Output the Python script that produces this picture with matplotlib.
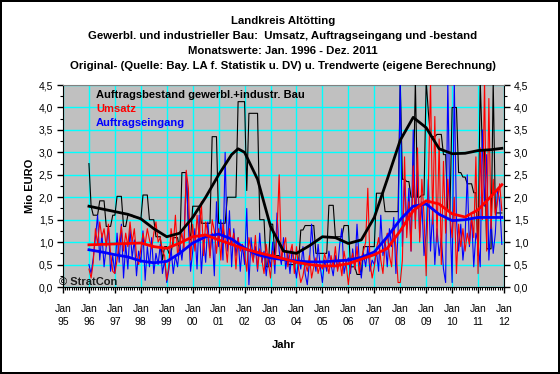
import numpy as np
import matplotlib
matplotlib.use("Agg")
import matplotlib.pyplot as plt
from matplotlib.ticker import MultipleLocator, FixedLocator, FuncFormatter

plt.rcParams['font.family'] = ['Liberation Sans', 'DejaVu Sans']

## Monatswerte Jan. 1996 - Dez. 2011 (Mio EURO)
bestand = [
    2.75, 1.80, 1.60, 1.60, 1.60, 1.92, 1.92, 1.92, 1.35, 1.35, 1.35, 1.60,  # 1996
    1.60, 2.02, 2.02, 2.02, 1.35, 1.35, 1.60, 1.60, 1.60, 1.55, 1.55, 1.55,  # 1997
    1.50, 2.05, 2.05, 2.05, 1.50, 1.50, 1.50, 1.12, 1.12, 1.12, 0.60, 0.90,  # 1998
    0.90, 0.75, 0.75, 1.10, 1.10, 1.10, 0.80, 2.55, 2.55, 2.55, 1.40, 1.05,  # 1999
    1.80, 1.80, 1.80, 1.80, 1.42, 1.42, 1.42, 1.42, 1.42, 3.35, 3.35, 3.35,  # 2000
    1.42, 1.42, 1.42, 1.42, 2.00, 2.00, 2.00, 2.00, 2.00, 4.13, 4.13, 4.13,  # 2001
    4.13, 2.15, 3.87, 3.87, 3.87, 3.87, 3.87, 1.50, 1.50, 1.50, 0.45, 0.45,  # 2002
    1.40, 1.40, 0.70, 0.70, 0.70, 0.60, 0.60, 0.60, 0.50, 0.50, 0.50, 0.50,  # 2003
    0.55, 0.55, 1.27, 1.27, 1.37, 1.37, 1.37, 1.37, 1.37, 0.75, 0.75, 0.75,  # 2004
    0.75, 0.75, 0.75, 1.82, 1.82, 1.82, 1.12, 1.12, 1.12, 1.12, 1.37, 1.37,  # 2005
    1.37, 0.45, 0.45, 0.45, 0.28, 0.28, 0.28, 0.90, 0.90, 0.90, 0.90, 0.90,  # 2006
    0.90, 2.09, 2.09, 2.09, 2.09, 1.68, 1.68, 1.68, 1.68, 1.68, 1.68, 1.68,  # 2007
    4.60, 2.40, 2.40, 2.35, 2.35, 2.00, 2.00, 4.60, 2.00, 2.00, 2.05, 2.05,  # 2008
    4.60, 3.90, 3.35, 3.35, 3.35, 3.40, 3.40, 3.40, 2.95, 2.95, 1.70, 1.70,  # 2009
    4.00, 4.00, 4.00, 2.55, 2.55, 2.45, 2.45, 2.30, 2.30, 2.30, 2.10, 2.10,  # 2010
    0.70, 4.60, 3.05, 3.05, 0.85, 0.85, 0.85, 4.60, 1.65, 1.65, 1.65, 1.65,  # 2011
]
umsatz = [
    0.40, 0.20, 0.55, 1.30, 0.95, 1.45, 1.10, 1.30, 0.90, 1.40, 0.75, 0.35,
    0.30, 0.60, 1.00, 1.35, 0.80, 1.20, 0.90, 1.45, 1.00, 1.30, 0.70, 0.50,
    0.85, 1.20, 0.95, 1.30, 1.05, 0.85, 1.20, 1.45, 1.00, 1.10, 0.80, 0.70,
    0.15, 0.50, 1.30, 0.90, 1.60, 0.70, 0.95, 1.20, 0.85, 2.60, 2.20, 0.60,
    1.40, 0.80, 1.60, 1.10, 1.90, 0.70, 1.45, 1.20, 0.65, 1.50, 1.25, 0.75,
    1.30, 0.60, 1.40, 1.05, 0.55, 1.30, 0.95, 1.20, 0.40, 1.10, 0.80, 0.95,
    0.75, 0.35, 1.10, 0.80, 0.55, 1.15, 0.40, 0.85, 0.60, 0.30, 0.95, 0.55,
    0.20, 0.80, 0.50, 1.20, 2.50, 0.60, 0.90, 1.10, 0.45, 0.75, 0.95, 0.30,
    0.90, 0.40, 0.10, 0.25, 0.55, 0.35, 0.70, 0.20, 0.45, 0.65, 0.30, 0.50,
    0.40, 0.75, 0.55, 0.30, 0.70, 0.45, 0.90, 0.35, 0.60, 0.25, 0.80, 0.50,
    0.05, 0.50, 0.75, 0.40, 0.90, 0.30, 0.65, 0.80, 1.00, 2.20, 0.55, 0.20,
    0.45, 0.85, 1.10, 0.60, 0.30, 0.95, 1.20, 0.70, 0.45, 1.35, 0.90, 0.10,
    0.10, 0.60, 2.90, 1.10, 1.90, 0.80, 2.70, 1.30, 3.10, 1.00, 2.40, 1.60,
    0.25, 2.20, 4.60, 1.40, 3.80, 1.00, 3.30, 0.50, 2.80, 1.20, 2.40, 1.60,
    1.10, 2.00, 0.30, 1.40, 0.90, 1.30, 0.80, 1.20, 0.95, 1.60, 1.10, 2.90,
    0.30, 3.10, 1.50, 4.60, 0.80, 4.20, 1.30, 2.40, 1.60, 1.90, 2.30, 1.70,
]
eingang = [
    0.50, 0.30, 0.65, 1.10, 1.60, 0.60, 1.20, 0.45, 0.90, 1.35, 0.35, 0.70,
    0.30, 1.20, 0.55, 1.40, 0.20, 0.95, 0.40, 1.30, 0.65, 1.05, 0.25, 0.80,
    0.55, 1.25, 0.15, 0.90, 0.45, 1.10, 0.30, 0.75, 0.50, 0.95, 0.30, 0.60,
    0.10, 0.40, 0.85, 0.30, 0.70, 0.45, 0.95, 0.60, 1.10, 2.55, 1.40, 0.35,
    0.80, 1.30, 0.40, 1.60, 0.30, 1.05, 0.55, 1.45, 0.70, 1.20, 0.25, 1.90,
    0.90, 1.50, 0.60, 3.00, 0.80, 1.70, 0.45, 1.30, 0.70, 1.10, 0.35, 0.95,
    0.50, 1.75, 0.05, 1.10, 0.60, 0.90, 0.35, 1.20, 0.55, 0.80, 0.25, 0.70,
    0.45, 1.00, 0.30, 1.65, 0.80, 0.50, 1.10, 0.40, 0.75, 0.30, 0.85, 0.55,
    0.20, 0.65, 0.40, 0.90, 0.30, 0.05, 0.55, 1.40, 0.70, 0.35, 0.95, 0.45,
    0.10, 0.60, 0.35, 0.80, 0.50, 0.25, 0.70, 0.40, 0.95, 1.30, 0.30, 0.55,
    0.65, 0.30, 0.85, 0.40, 1.40, 0.60, 0.20, 0.75, 0.45, 0.90, 0.35, 0.60,
    0.50, 0.80, 0.35, 1.60, 0.70, 1.05, 0.45, 1.30, 0.90, 1.55, 0.30, 1.20,
    4.60, 0.90, 2.40, 1.30, 2.20, 0.80, 3.50, 1.50, 2.60, 1.10, 1.90, 0.70,
    1.20, 2.40, 0.80, 1.70, 0.50, 1.30, 0.70, 1.10, 0.40, 0.10, 4.60, 1.60,
    0.10, 4.60, 1.50, 0.80, 1.40, 0.60, 1.10, 2.50, 0.90, 1.60, 0.45, 1.20,
    1.00, 0.45, 3.50, 1.80, 2.95, 0.60, 1.50, 0.75, 1.20, 2.20, 1.90, 0.95,
]

## Trendwerte (Stuetzstellen)
trend_t = [1996.0, 1996.5, 1997.0, 1997.5, 1998.0, 1998.5, 1999.0, 1999.5,
           2000.0, 2000.5, 2001.0, 2001.5, 2001.75, 2002.0, 2002.5, 2003.0,
           2003.5, 2004.0, 2004.5, 2005.0, 2005.5, 2006.0, 2006.5, 2007.0,
           2007.5, 2008.0, 2008.5, 2009.0, 2009.5, 2010.0, 2010.5, 2011.0,
           2011.5, 2011.92]
trend_bestand = [1.80, 1.74, 1.68, 1.62, 1.52, 1.30, 1.12, 1.20,
                 1.55, 2.00, 2.50, 2.95, 3.08, 3.00, 2.40, 1.35,
                 0.80, 0.75, 0.92, 1.12, 1.10, 0.97, 1.05, 1.55,
                 2.40, 3.27, 3.78, 3.55, 3.08, 2.97, 2.98, 3.04,
                 3.06, 3.09]
trend_umsatz = [0.94, 0.95, 0.96, 0.97, 0.98, 0.90, 0.86, 0.98,
                1.12, 1.16, 1.05, 0.95, 0.90, 0.85, 0.77, 0.70,
                0.63, 0.55, 0.50, 0.47, 0.47, 0.52, 0.62, 0.72,
                0.86, 1.25, 1.70, 1.92, 1.85, 1.63, 1.56, 1.72,
                2.02, 2.28]
trend_eingang = [0.83, 0.78, 0.72, 0.67, 0.58, 0.54, 0.57, 0.75,
                 0.98, 1.12, 1.18, 1.07, 0.97, 0.87, 0.72, 0.65,
                 0.61, 0.58, 0.56, 0.56, 0.58, 0.60, 0.66, 0.78,
                 1.12, 1.50, 1.80, 1.85, 1.62, 1.48, 1.50, 1.55,
                 1.55, 1.55]

year_labels = ['95', '96', '97', '98', '99', '00', '01', '02', '03',
               '04', '05', '06', '07', '08', '09', '10', '11', '12']

t = 1996 + np.arange(len(bestand)) / 12.0

fig = plt.figure(figsize=(5.6, 3.74), dpi=100)
fig.patch.set_edgecolor('black')
fig.patch.set_linewidth(1.5)
ax = fig.add_axes([0.1125, 0.2326, 0.7875, 0.540])
ax.set_facecolor('#c0c0c0')

ax.plot(t, bestand, color='black', lw=0.8, zorder=3)
ax.plot(t, eingang, color='blue', lw=0.8, zorder=4)
ax.plot(t, umsatz, color='red', lw=0.8, zorder=4)
ax.plot(trend_t, trend_eingang, color='blue', lw=2.0, zorder=5)
ax.plot(trend_t, trend_umsatz, color='red', lw=2.0, zorder=6)
ax.plot(trend_t, trend_bestand, color='black', lw=2.0, zorder=7)

ax.set_xlim(1995, 2012)
ax.set_ylim(0, 4.5)
ax.xaxis.set_major_locator(FixedLocator(np.arange(1995, 2013)))
ax.xaxis.set_minor_locator(MultipleLocator(1 / 12.0))
ax.set_xticklabels(['Jan\n' + y for y in year_labels], fontsize=7.5, linespacing=1.45)
ax.yaxis.set_major_locator(MultipleLocator(0.5))
ax.yaxis.set_minor_locator(MultipleLocator(0.25))
ax.yaxis.set_major_formatter(FuncFormatter(lambda v, p: ('%.1f' % v).replace('.', ',')))
ax.tick_params(which='major', direction='out', length=4, width=1, colors='black',
               right=True, labelright=True, labelsize=7.5, pad=3)
ax.tick_params(axis='x', which='major', pad=8)
ax.tick_params(which='minor', direction='out', length=2, width=0.8, right=True)
ax.grid(True, which='major', color='#00ffff', lw=1.0)
ax.set_axisbelow(True)
for s in ['left', 'bottom', 'right']:
    ax.spines[s].set_color('black')
ax.spines['top'].set_color('#808080')

ax.set_ylabel('Mio EURO', fontsize=8, fontweight='bold', labelpad=3)
ax.set_xlabel('Jahr', fontsize=8, fontweight='bold', labelpad=9)

ax.text(0.075, 0.95, 'Auftragsbestand gewerbl.+industr. Bau', color='black',
        fontsize=8, fontweight='bold', transform=ax.transAxes, va='center', zorder=8)
ax.text(0.075, 0.88, 'Umsatz', color='red', fontsize=8, fontweight='bold',
        transform=ax.transAxes, va='center', zorder=8)
ax.text(0.075, 0.81, 'Auftragseingang', color='blue', fontsize=8, fontweight='bold',
        transform=ax.transAxes, va='center', zorder=8)
ax.text(-0.01, 0.025, '© StratCon', color='black', fontsize=8, fontweight='bold',
        transform=ax.transAxes, va='center', zorder=8, alpha=0.85)

titles = ['Landkreis Altötting',
          'Gewerbl. und industrieller Bau:  Umsatz, Auftragseingang und -bestand',
          'Monatswerte: Jan. 1996 - Dez. 2011',
          'Original- (Quelle: Bay. LA f. Statistik u. DV) u. Trendwerte (eigene Berechnung)']
for i, line in enumerate(titles):
    fig.text(0.505, 1 - (21 + 15 * i) / 374.0, line, ha='center', va='center',
             fontsize=8.2, fontweight='bold')

fig.savefig('out.png', dpi=100, edgecolor=fig.get_edgecolor())
